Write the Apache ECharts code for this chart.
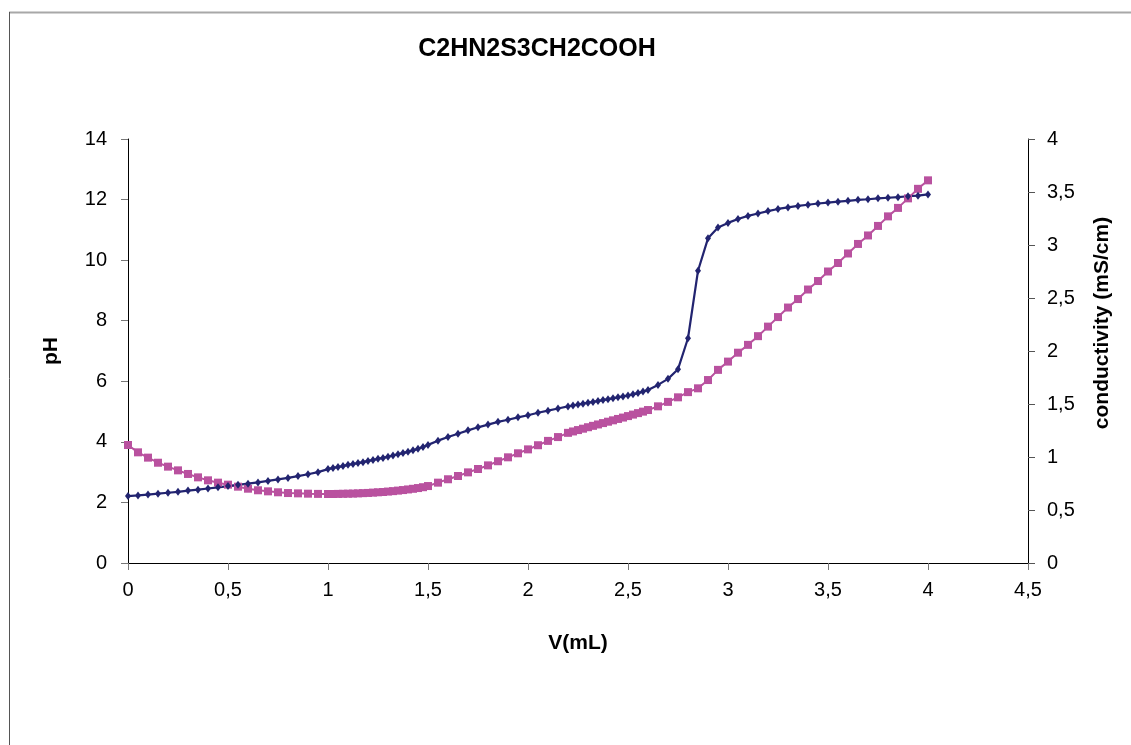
<!DOCTYPE html>
<html>
<head>
<meta charset="utf-8">
<script src="https://cdn.jsdelivr.net/npm/echarts@6/dist/echarts.min.js"></script>
<style>
  html, body { margin: 0; padding: 0; background: #fff; }
  #chart { width: 1131px; height: 745px; }
</style>
</head>
<body>
<div id="chart"></div>
<script>
// titration volume (mL)
var volume = [
  0, 0.05, 0.1, 0.15, 0.2, 0.25, 0.3, 0.35, 0.4, 0.45, 0.5, 0.55, 0.6, 0.65, 0.7, 0.75, 0.8, 0.85, 0.9, 0.95, 1.0,
  1.025, 1.05, 1.075, 1.1, 1.125, 1.15, 1.175, 1.2, 1.225, 1.25, 1.275, 1.3, 1.325, 1.35, 1.375, 1.4, 1.425, 1.45, 1.475, 1.5,
  1.55, 1.6, 1.65, 1.7, 1.75, 1.8, 1.85, 1.9, 1.95, 2.0, 2.05, 2.1, 2.15, 2.2,
  2.225, 2.25, 2.275, 2.3, 2.325, 2.35, 2.375, 2.4, 2.425, 2.45, 2.475, 2.5, 2.525, 2.55, 2.575, 2.6,
  2.65, 2.7, 2.75, 2.8, 2.85, 2.9, 2.95, 3.0, 3.05, 3.1, 3.15, 3.2, 3.25, 3.3, 3.35, 3.4, 3.45, 3.5,
  3.55, 3.6, 3.65, 3.7, 3.75, 3.8, 3.85, 3.9, 3.95, 4.0
];
var phValues = [
  2.21, 2.23, 2.26, 2.29, 2.32, 2.35, 2.39, 2.42, 2.46, 2.50, 2.54, 2.58, 2.62, 2.66, 2.71, 2.76, 2.81, 2.87, 2.93, 3.00, 3.10,
  3.14, 3.17, 3.20, 3.24, 3.27, 3.30, 3.33, 3.37, 3.40, 3.44, 3.47, 3.51, 3.55, 3.59, 3.63, 3.67, 3.72, 3.77, 3.83, 3.90,
  4.04, 4.16, 4.27, 4.38, 4.48, 4.57, 4.66, 4.73, 4.81, 4.88, 4.96, 5.03, 5.10, 5.17,
  5.20, 5.23, 5.26, 5.29, 5.32, 5.35, 5.38, 5.41, 5.44, 5.47, 5.50, 5.53, 5.57, 5.61, 5.66, 5.71,
  5.88, 6.08, 6.40, 7.42, 9.65, 10.72, 11.08, 11.23, 11.36, 11.46, 11.54, 11.62, 11.69, 11.74, 11.79, 11.83, 11.87, 11.90,
  11.93, 11.96, 11.99, 12.01, 12.04, 12.06, 12.08, 12.11, 12.13, 12.17
];
var condValues = [
  1.113, 1.044, 0.994, 0.946, 0.909, 0.874, 0.840, 0.808, 0.780, 0.758, 0.739, 0.720, 0.701, 0.686, 0.676, 0.667, 0.660, 0.657, 0.654, 0.652, 0.651,
  0.651, 0.652, 0.653, 0.654, 0.655, 0.657, 0.659, 0.661, 0.664, 0.667, 0.670, 0.674, 0.678, 0.683, 0.688, 0.694, 0.700, 0.707, 0.715, 0.726,
  0.758, 0.790, 0.821, 0.855, 0.887, 0.921, 0.960, 0.997, 1.035, 1.072, 1.111, 1.152, 1.188, 1.228,
  1.241, 1.254, 1.267, 1.281, 1.294, 1.307, 1.320, 1.333, 1.346, 1.359, 1.372, 1.386, 1.400, 1.414, 1.428, 1.443,
  1.478, 1.520, 1.563, 1.612, 1.648, 1.726, 1.822, 1.900, 1.984, 2.058, 2.140, 2.230, 2.320, 2.410, 2.490, 2.580, 2.660, 2.750,
  2.830, 2.920, 3.010, 3.090, 3.180, 3.270, 3.350, 3.440, 3.530, 3.610
];

function pairs(xs, ys) {
  var out = [];
  for (var i = 0; i < xs.length; i++) out.push([xs[i], ys[i]]);
  return out;
}
function comma(v) { return String(v).replace('.', ','); }

var font = 'Liberation Sans, Arial, sans-serif';
var nameStyle = { fontFamily: font, fontSize: 21, fontWeight: 'bold', color: '#000' };
var myChart = echarts.init(document.getElementById('chart'));
var option = {
  animation: false,
  title: {
    text: 'C2HN2S3CH2COOH',
    left: 532, top: 32, textAlign: 'center',
    textStyle: { fontFamily: font, fontSize: 25, fontWeight: 'bold', color: '#000' }
  },
  graphic: [
    { type: 'line', shape: { x1: 9, y1: 12.5, x2: 1131, y2: 12.5 }, style: { stroke: '#a8a8a8', lineWidth: 2 } },
    { type: 'line', shape: { x1: 9.5, y1: 12, x2: 9.5, y2: 745 }, style: { stroke: '#555', lineWidth: 1 } },
    // right axis title sits a bit above the axis middle in the original
    {
      type: 'text', x: 1102, y: 323, rotation: Math.PI / 2,
      style: { text: 'conductivity (mS/cm)', font: 'bold 21px ' + font, fill: '#000', textAlign: 'center', textVerticalAlign: 'middle' }
    }
  ],
  grid: { left: 128, right: 103, top: 139, bottom: 182 },
  xAxis: {
    type: 'value', min: 0, max: 4.5, interval: 0.5,
    name: 'V(mL)', nameLocation: 'middle', nameGap: 70,
    nameTextStyle: nameStyle,
    axisLine: { lineStyle: { color: '#000', width: 1 } },
    axisTick: { show: true, length: 7, lineStyle: { color: '#777' } },
    axisLabel: { fontFamily: font, fontSize: 20, color: '#000', margin: 17, formatter: comma },
    splitLine: { show: false }
  },
  yAxis: [
    {
      type: 'value', min: 0, max: 14, interval: 2,
      name: 'pH', nameLocation: 'middle', nameGap: 66, nameRotate: 90,
      nameTextStyle: nameStyle,
      axisLine: { show: true, lineStyle: { color: '#000', width: 1 } },
      axisTick: { show: true, length: 7, lineStyle: { color: '#777' } },
      axisLabel: { fontFamily: font, fontSize: 20, color: '#000', margin: 21 },
      splitLine: { show: false }
    },
    {
      type: 'value', min: 0, max: 4, interval: 0.5, position: 'right',
      axisLine: { show: true, lineStyle: { color: '#000', width: 1 } },
      axisTick: { show: true, length: 7, lineStyle: { color: '#555' } },
      axisLabel: { fontFamily: font, fontSize: 20, color: '#000', margin: 19, formatter: comma },
      splitLine: { show: false }
    }
  ],
  series: [
    {
      name: 'conductivity', type: 'line', yAxisIndex: 1,
      data: pairs(volume, condValues),
      symbol: 'rect', symbolSize: 8, showAllSymbol: true,
      lineStyle: { color: '#b9519f', width: 2 },
      itemStyle: { color: '#b9519f' }
    },
    {
      name: 'pH', type: 'line', yAxisIndex: 0,
      data: pairs(volume, phValues),
      symbol: 'diamond', symbolSize: [6, 8], showAllSymbol: true,
      lineStyle: { color: '#222470', width: 2.2 },
      itemStyle: { color: '#222470' }
    }
  ]
};
myChart.setOption(option);
</script>
</body>
</html>
